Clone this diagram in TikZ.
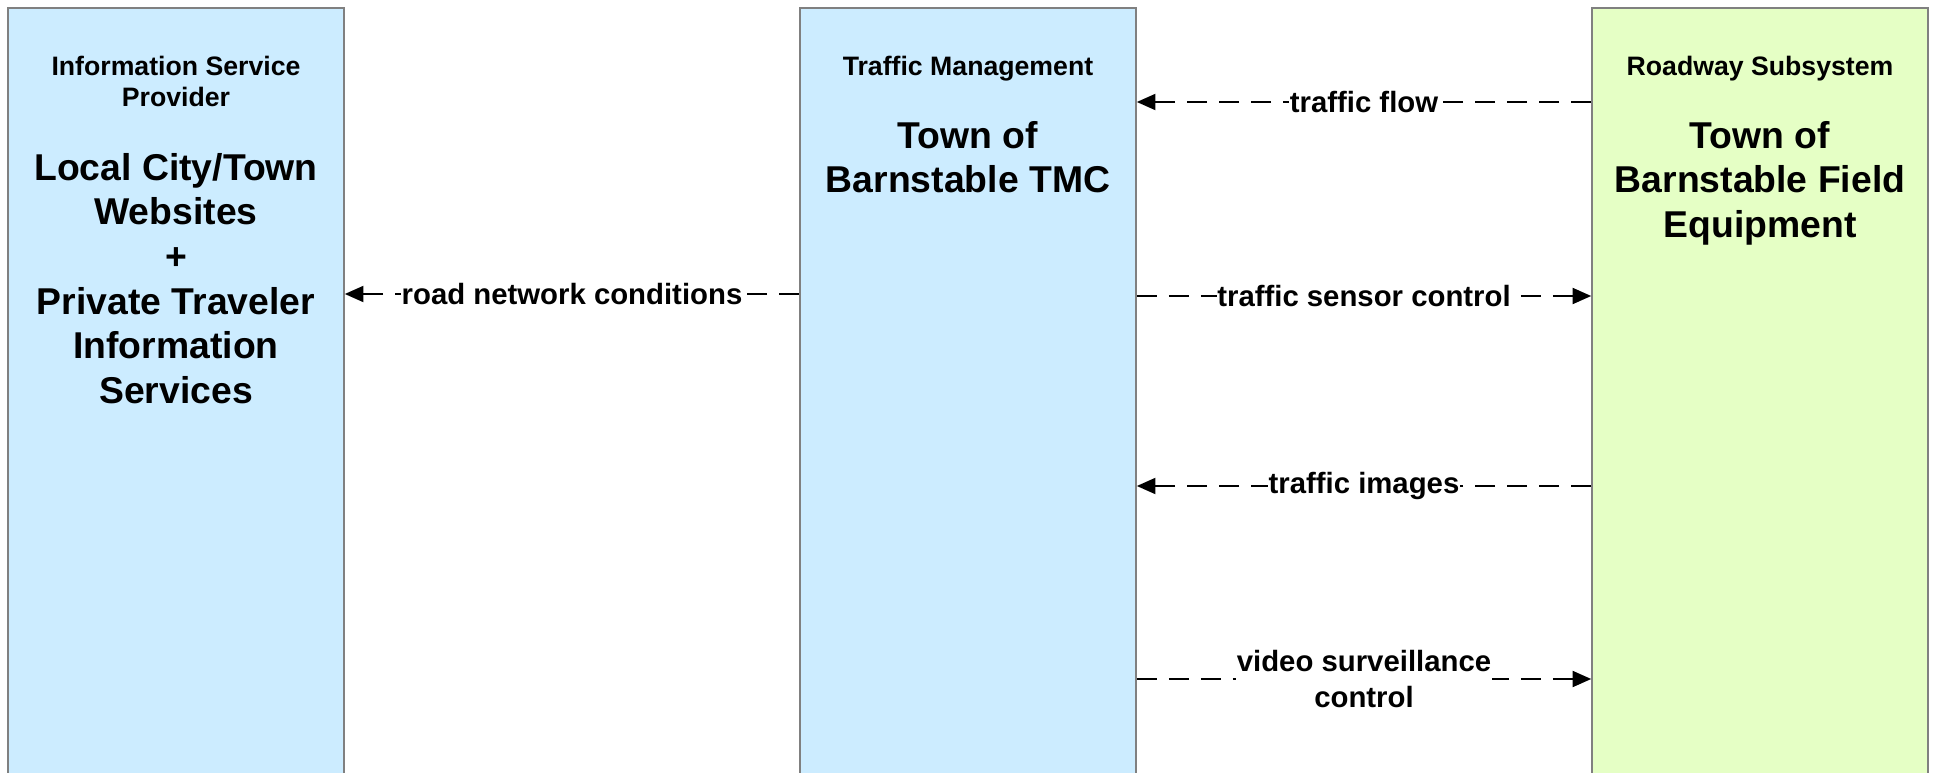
\documentclass[tikz,border=0pt]{standalone}
\usepackage{fontspec}
\setmainfont{Liberation Sans}
\usetikzlibrary{arrows.meta}
\definecolor{boxblue}{RGB}{204,236,255}
\definecolor{boxgreen}{RGB}{229,255,197}
\definecolor{boxedge}{RGB}{128,128,128}
\begin{document}
\begin{tikzpicture}[x=0.75pt,y=-0.75pt,
  sysbox/.style={draw=boxedge,line width=1.2pt,minimum width=252pt,minimum height=600pt,inner sep=0pt,anchor=north},
  hdr/.style={font=\bfseries\fontsize{20}{23.5}\selectfont,align=center,anchor=north,inner sep=0pt},
  ttl/.style={font=\bfseries\fontsize{28}{33.5}\selectfont,align=center,anchor=north,inner sep=0pt},
  flow/.style={draw=black,line width=1.6pt,dash pattern=on 15pt off 9pt,-{Triangle[length=14pt,width=12pt]}},
  lbl/.style={font=\bfseries\fontsize{22}{27}\selectfont,fill=white,inner xsep=0.5pt,inner ysep=1pt,align=center}]
\useasboundingbox (0,0) rectangle (1937,773);
\clip (0,0) rectangle (1937,773);
% system boxes
\node[sysbox,fill=boxblue] (isp) at (176,7) {};
\node[sysbox,fill=boxblue] (tm) at (968,7) {};
\node[sysbox,fill=boxgreen] (rs) at (1760,7) {};
% box texts
\node[hdr] (isph) at (176,56) {Information Service\\Provider};
\node[ttl] (ispt) at (176,153) {Local City/Town\\Websites\\+\\Private Traveler\\Information\\Services};
\node[hdr] (tmh) at (968,56) {Traffic Management};
\node[ttl] (tmt) at (968,121) {Town of\\Barnstable TMC};
\node[hdr] (rsh) at (1760,56) {Roadway Subsystem};
\node[ttl] (rst) at (1760,121) {Town of\\Barnstable Field\\Equipment};
% flows
\draw[flow] (tm.west |- 0,294) -- node[lbl] (l1) {road network conditions} (isp.east |- 0,294);
\draw[flow] (rs.west |- 0,102) -- node[lbl] (l2) {traffic flow} (tm.east |- 0,102);
\draw[flow] (tm.east |- 0,296) -- node[lbl] (l3) {traffic sensor control} (rs.west |- 0,296);
\draw[flow] (rs.west |- 0,486) -- node[lbl] (l4) {traffic images} (tm.east |- 0,486);
\draw[flow] (tm.east |- 0,679) -- node[lbl] (l5) {video surveillance\\control} (rs.west |- 0,679);
\end{tikzpicture}
\end{document}
